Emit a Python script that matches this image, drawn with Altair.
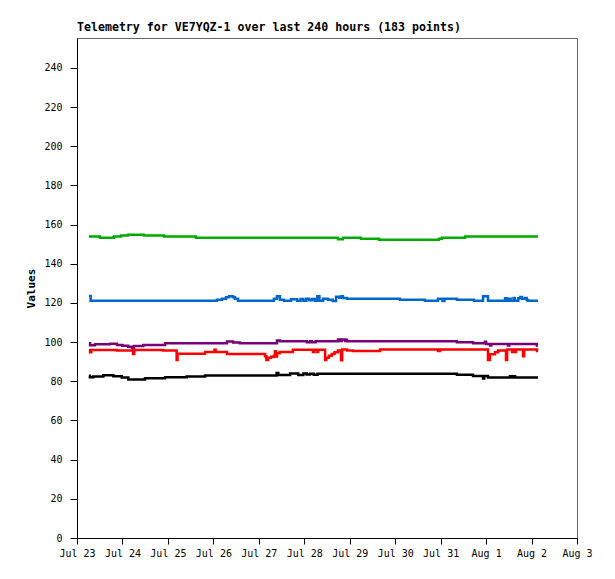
import json
import altair as alt
import pandas as pd

TITLE = "Telemetry for VE7YQZ-1 over last 240 hours (183 points)"
DAY_LABELS = ["Jul 23", "Jul 24", "Jul 25", "Jul 26", "Jul 27", "Jul 28",
              "Jul 29", "Jul 30", "Jul 31", "Aug 1", "Aug 2", "Aug 3"]
Y_TICKS = [0, 20, 40, 60, 80, 100, 120, 140, 160, 180, 200, 220, 240]

# hours since Jul 23 00:00, and values
green_h = [6.3, 12.1, 19.5, 23.2, 26.9, 35.4, 45.9, 62.8, 137.8, 140.4, 149.9, 159.5, 191.1, 192.7, 204.9, 243.4]
green_v = [153.9, 153.3, 153.9, 154.4, 154.9, 154.4, 153.9, 153.3, 152.5, 153.3, 152.8, 152.3, 152.8, 153.3, 153.9, 153.9]

blue_h = [6.3, 7.2, 73.9, 76.6, 78.7, 80.3, 82.4, 83.4, 85.0, 104.0, 105.6, 107.2, 109.3, 113.0,
          116.2, 118.0, 119.5, 121.0, 122.5, 124.0, 125.5, 126.9, 128.0, 129.9, 132.5, 135.0,
          136.8, 138.5, 139.5, 140.4, 142.6, 170.5, 183.7, 190.6, 193.0, 194.0, 200.6, 209.6,
          214.4, 217.0, 226.0, 227.0, 228.3, 229.0, 230.5, 231.2, 233.0, 234.0, 235.0, 236.8,
          237.5, 238.1, 243.4]
blue_v = [123.6, 121.2, 121.7, 122.2, 122.9, 123.4, 122.9, 122.2, 121.2, 122.2, 123.4, 121.7, 121.2, 121.9,
          121.2, 122.0, 121.2, 122.2, 121.4, 122.0, 121.2, 123.4, 121.2, 122.2, 121.7, 121.0,
          123.2, 122.7, 123.4, 122.5, 122.2, 121.7, 121.2, 122.2, 121.0, 122.2, 121.7, 121.2,
          123.4, 121.2, 122.4, 121.2, 122.2, 121.2, 122.6, 121.2, 122.4, 123.0, 122.2, 122.6,
          121.5, 121.2, 121.2]

purple_h = [6.3, 6.9, 9.5, 17.4, 21.1, 24.0, 27.0, 29.0, 29.6, 30.1, 35.0, 46.5, 79.2, 82.4, 86.0,
            105.6, 107.2, 121.4, 123.0, 124.0, 126.0, 137.8, 139.0, 139.8, 141.5, 142.0, 142.6,
            200.6, 209.1, 215.4, 216.0, 218.1, 218.7, 227.6, 228.2, 242.8, 243.4]
purple_v = [99.4, 98.4, 98.9, 99.2, 98.6, 98.1, 97.7, 97.2, 96.5, 98.0, 98.6, 99.4, 100.3, 99.8, 99.4,
            100.8, 100.4, 99.9, 100.4, 99.9, 100.4, 101.3, 100.6, 101.3, 100.6, 101.2, 100.4,
            99.9, 99.4, 100.2, 99.1, 98.3, 99.1, 98.3, 99.1, 98.3, 98.3]

red_h = [6.3, 6.9, 7.5, 21.1, 29.6, 30.2, 45.4, 52.6, 53.1, 67.6, 72.6, 73.2, 79.2, 99.3, 100.0,
         100.9, 102.5, 104.0, 104.5, 105.0, 105.6, 107.0, 114.0, 124.6, 125.2, 126.7, 127.3,
         131.0, 131.6, 133.0, 134.5, 136.0, 137.8, 139.4, 140.0, 142.6, 145.7, 160.0, 190.6,
         191.6, 217.0, 218.0, 220.7, 222.3, 226.5, 227.1, 229.7, 230.2, 231.3, 231.8, 235.5,
         236.1, 242.9, 243.4]
red_v = [96.0, 94.8, 96.0, 95.8, 94.0, 96.0, 95.8, 90.9, 94.1, 95.0, 96.1, 95.0, 94.0, 92.8, 90.9,
         92.0, 92.5, 93.0, 95.3, 92.7, 94.3, 95.0, 96.1, 95.0, 96.1, 95.0, 96.1,
         90.9, 92.0, 93.0, 94.0, 94.8, 95.8, 90.7, 96.3, 95.8, 95.5, 96.3, 95.5,
         96.3, 90.9, 93.8, 94.8, 95.8, 90.9, 96.3, 95.0, 96.3, 95.0, 96.3, 92.8,
         96.3, 95.5, 95.5]

black_h = [6.3, 6.8, 8.6, 13.9, 19.2, 23.6, 27.1, 35.9, 46.5, 57.9, 67.6, 105.4, 106.3, 112.5, 116.8,
           119.5, 121.3, 123.0, 125.0, 127.0, 200.6, 209.1, 214.4, 215.0, 217.0, 228.6, 229.3,
           230.6, 231.3, 243.4]
black_v = [82.9, 82.1, 82.4, 83.1, 82.6, 82.0, 80.9, 81.6, 82.1, 82.4, 83.0, 84.2, 83.2, 84.0, 83.2,
           84.0, 83.5, 83.9, 83.4, 83.9, 83.3, 82.7, 81.5, 82.7, 81.9, 82.6, 81.9,
           82.6, 81.9, 81.9]

SERIES = ["green", "blue", "purple", "red", "black"]
COLORS = ["#00aa00", "#0066cc", "#770077", "#ff0000", "#000000"]

rows = []
for name, hs, vs in [("green", green_h, green_v), ("blue", blue_h, blue_v),
                     ("purple", purple_h, purple_v), ("red", red_h, red_v),
                     ("black", black_h, black_v)]:
    for h, v in zip(hs, vs):
        rows.append({"series": name, "hour": h, "value": v})
df = pd.DataFrame(rows)

MONO = "DejaVu Sans Mono"
label_expr = json.dumps(DAY_LABELS) + "[round(datum.value / 24)]"

chart = alt.Chart(df).mark_line(interpolate="step-after", strokeWidth=2.5).encode(
    x=alt.X("hour:Q",
            scale=alt.Scale(domain=[0, 264], nice=False, zero=False),
            axis=alt.Axis(values=[i * 24 for i in range(len(DAY_LABELS))],
                          labelExpr=label_expr, title=None, grid=False,
                          tickSize=6, labelPadding=4, labelFlush=False)),
    y=alt.Y("value:Q",
            scale=alt.Scale(domain=[0, 255.3], nice=False),
            axis=alt.Axis(values=Y_TICKS, title="Values", grid=False,
                          tickSize=7, labelPadding=8, titlePadding=7)),
    color=alt.Color("series:N", scale=alt.Scale(domain=SERIES, range=COLORS), legend=None),
).properties(
    width=500, height=500,
    autosize=alt.AutoSizeParams(type="none"),
    padding={"left": 69, "top": 30, "right": 30, "bottom": 30},
    title=alt.TitleParams(TITLE, anchor="start", frame="group", font=MONO, fontSize=11.6,
                          fontWeight="bold", color="black", offset=4),
).configure_view(
    stroke="#666666", strokeWidth=1
).configure_axis(
    domainColor="black", tickColor="black", labelColor="black",
    labelFont=MONO, labelFontSize=10,
    titleFont=MONO, titleFontSize=11, titleFontWeight="bold", titleColor="black",
)

chart.save("out.html", embed_options={"renderer": "svg", "actions": False})
